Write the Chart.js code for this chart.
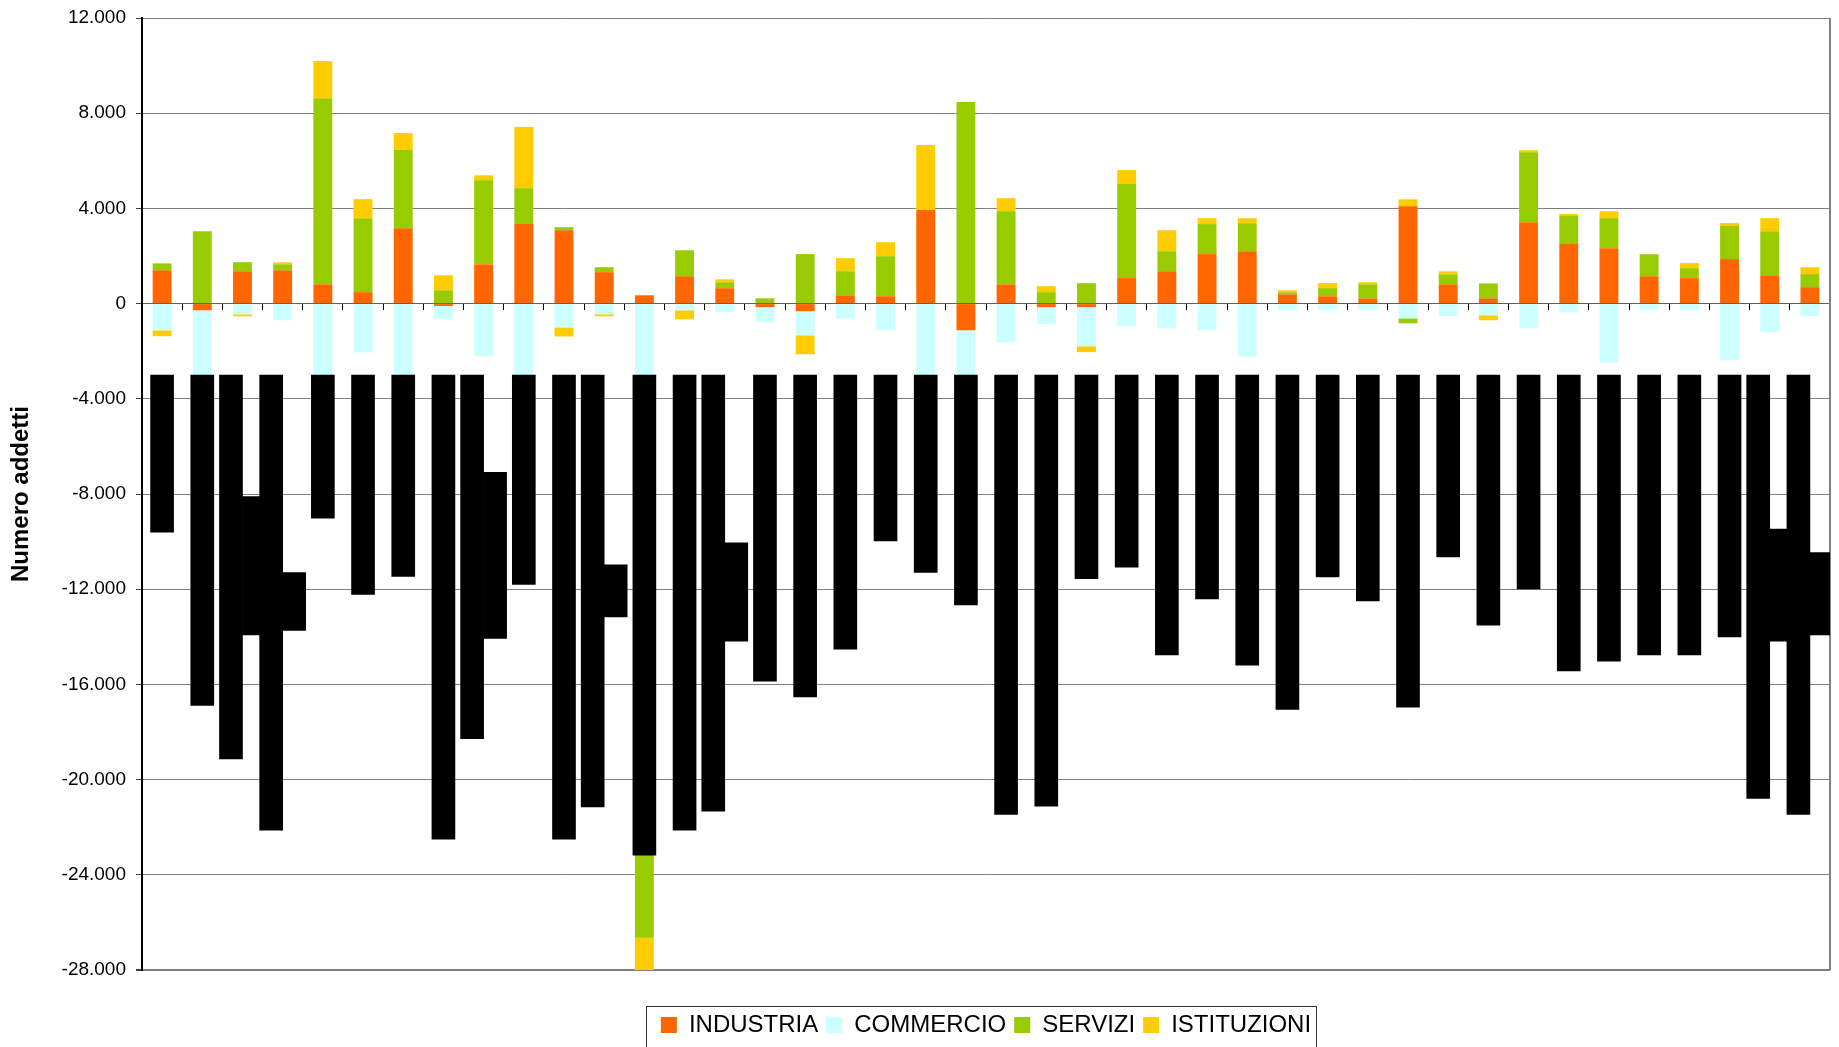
<!DOCTYPE html>
<html>
<head>
<meta charset="utf-8">
<script src="https://cdn.jsdelivr.net/npm/chart.js@4.4.0/dist/chart.umd.min.js"></script>
<style>
    html, body { margin: 0; padding: 0; background: #fff; }
</style>
</head>
<body>
<canvas id="chart" width="1839" height="1047"></canvas>
<script>
// categorie (i nomi dei comuni sono coperti nel grafico originale)
const categorie = ['1', '2', '3', '4', '5', '6', '7', '8', '9', '10', '11', '12', '13', '14',
    '15', '16', '17', '18', '19', '20', '21', '22', '23', '24', '25', '26', '27', '28',
    '29', '30', '31', '32', '33', '34', '35', '36', '37', '38', '39', '40', '41', '42'];

const industria = [1400, -280, 1360, 1400, 810, 480, 3170, -100, 1650, 3340, 3080, 1320, 350, 1150,
    645, -150, -320, 350, 310, 3930, -1120, 810, -150, -150, 1070, 1360, 2080, 2200,
    390, 310, 220, 4090, 810, 220, 3420, 2500, 2330, 1150, 1070, 1870, 1190, 690];

const commercio = [-1120, -3500, -450, -700, -3600, -2050, -3400, -560, -2210, -3300, -1000, -450, -23000, -280,
    -365, -630, -1010, -620, -1120, -3500, -2500, -1630, -715, -1640, -950, -1040, -1120, -2210,
    -280, -280, -280, -620, -530, -490, -1040, -365, -2470, -280, -280, -2380, -1200, -530];

const servizi = [290, 3040, 380, 250, 7820, 3110, 3280, 560, 3530, 1510, 130, 210, -3640, 1090,
    250, 220, 2080, 1010, 1680, 0, 8470, 3070, 480, 860, 3950, 840, 1260, 1180,
    85, 340, 590, -210, 420, 630, 2940, 1180, 1260, 925, 420, 1390, 1850, 550];

const istituzioni = [-250, 0, -85, 85, 1560, 800, 715, 630, 210, 2570, -380, -85, -1470, -380,
    125, 0, -800, 550, 590, 2730, 0, 550, 250, -250, 590, 880, 250, 210,
    85, 210, 85, 290, 125, -210, 85, 85, 290, 0, 210, 125, 550, 290];

// etichette di categoria coperte: prima riga (da -3000) e seconda riga
const inizioEtichette = -3000;
const fineRiga1 = [-9600, -16880, -19130, -22120, -9020, -12220, -11460, -22500, -18280, -11800, -22500, -21150, -23180, -22120,
    -21330, -15860, -16530, -14520, -9970, -11300, -12660, -21460, -21120, -11560, -11070, -14760, -12410, -15190,
    -17050, -11480, -12490, -16960, -10640, -13510, -11990, -15430, -15020, -14760, -14760, -14000, -20790, -21460];

const inizioRiga2 = [null, null, -8110, -11300, null, null, null, null, -7090, null, null, -10980, null, null,
    -10050, null, null, null, null, null, null, null, null, null, null, null, null, null,
    null, null, null, null, null, null, null, null, null, null, null, null, -9470, -10460];
const fineRiga2 = [null, null, -13920, -13730, null, null, null, null, -14070, null, null, -13160, null, null,
    -14180, null, null, null, null, null, null, null, null, null, null, null, null, null,
    null, null, null, null, null, null, null, null, null, null, null, null, -14180, -13920];

const valoriAsse = [-28000, -24000, -20000, -16000, -12000, -8000, -4000, 0, 4000, 8000, 12000];


function formatta(v) {
    const s = Math.abs(v).toString().replace(/\B(?=(\d{3})+(?!\d))/g, '.');
    return v < 0 ? '-' + s : s;
}

const riga1 = fineRiga1.map(v => [inizioEtichette, v]);
const riga2 = inizioRiga2.map((v, i) => v === null ? null : [v, fineRiga2[i]]);

// bordo destro dell'area e cornice della legenda
const cornice = {
    id: 'cornice',
    beforeDatasetsDraw(chart) {
        const {ctx, chartArea: a} = chart;
        ctx.save();
        ctx.strokeStyle = '#808080';
        ctx.lineWidth = 2;
        ctx.beginPath();
        ctx.moveTo(a.right, a.top);
        ctx.lineTo(a.right, a.bottom);
        ctx.stroke();
        ctx.restore();
    },
    afterDraw(chart) {
        const lg = chart.legend;
        const hb = lg.legendHitBoxes;
        if (!hb || !hb.length) return;
        const first = hb[0], last = hb[hb.length - 1];
        const ctx = chart.ctx;
        ctx.save();
        ctx.strokeStyle = '#333';
        ctx.lineWidth = 1;
        ctx.strokeRect(Math.round(first.left - 15) + 0.5, Math.round(lg.top) + 1.5,
            Math.round(last.left + last.width - first.left + 20), 60);
        ctx.restore();
    }
};

Chart.defaults.font.family = "'Liberation Sans', Arial, sans-serif";

const chart = document.querySelector('#chart').getContext('2d');

new Chart(chart, {
    type: 'bar',
    data: {
        labels: categorie,
        datasets: [
            { label: 'INDUSTRIA', data: industria, backgroundColor: '#FF6600', stack: 'a', grouped: false },
            { label: 'COMMERCIO', data: commercio, backgroundColor: '#CCFFFF', stack: 'a', grouped: false },
            { label: 'SERVIZI', data: servizi, backgroundColor: '#99CC00', stack: 'a', grouped: false },
            { label: 'ISTITUZIONI', data: istituzioni, backgroundColor: '#FFCC00', stack: 'a', grouped: false },
            { label: 'riga1', data: riga1, backgroundColor: '#000', stack: 'r1',
              order: -1, barThickness: 23, skipNull: true },
            { label: 'riga2', data: riga2, backgroundColor: '#000', stack: 'r2',
              order: -1, barThickness: 23, skipNull: true }
        ]
    },
    options: {
        responsive: false,
        animation: false,
        barPercentage: 0.47,
        categoryPercentage: 1,
        layout: { padding: { top: 18, right: 9, bottom: 0, left: 0 } },
        scales: {
            x: {
                stacked: true,
                position: { y: 0 },
                z: 1,
                offset: true,
                grid: { display: true, drawOnChartArea: false, drawTicks: true, tickLength: 6,
                        offset: true, tickColor: '#000', tickWidth: 1 },
                border: { display: true, color: '#606060', width: 1 },
                ticks: { display: false }
            },
            // asse vuoto: solo spazio tra area del grafico e legenda
            xl: {
                axis: 'x',
                type: 'category',
                position: 'bottom',
                grid: { display: false },
                border: { display: false },
                ticks: { display: false },
                afterFit: s => { s.height = 35; }
            },
            y: {
                stacked: true,
                min: -28000,
                max: 12000,
                afterBuildTicks: s => { s.ticks = valoriAsse.map(v => ({ value: v })); },
                ticks: { color: '#000', font: { size: 19 }, padding: 10, callback: v => formatta(v) },
                grid: {
                    color: '#808080',
                    lineWidth: c => (c.tick && c.tick.value === -28000) ? 2 : 1,
                    tickLength: 6,
                    tickColor: '#404040'
                },
                border: { display: true, color: '#000', width: 2 },
                title: {
                    display: true,
                    text: 'Numero addetti',
                    color: '#000',
                    font: { size: 24, weight: 'bold' },
                    padding: { top: 7, bottom: 0 }
                },
                afterFit: s => {
                    s.width = 142;
                    s.paddingTop = 0;
                    s.paddingBottom = 0;
                }
            }
        },
        plugins: {
            legend: {
                position: 'bottom',
                fullSize: false,
                labels: {
                    boxWidth: 16,
                    boxHeight: 16,
                    padding: 8,
                    color: '#000',
                    font: { size: 24 },
                    filter: item => item.datasetIndex < 4
                }
            },
            tooltip: { enabled: false }
        }
    },
    plugins: [cornice]
})
</script>
</body>
</html>
